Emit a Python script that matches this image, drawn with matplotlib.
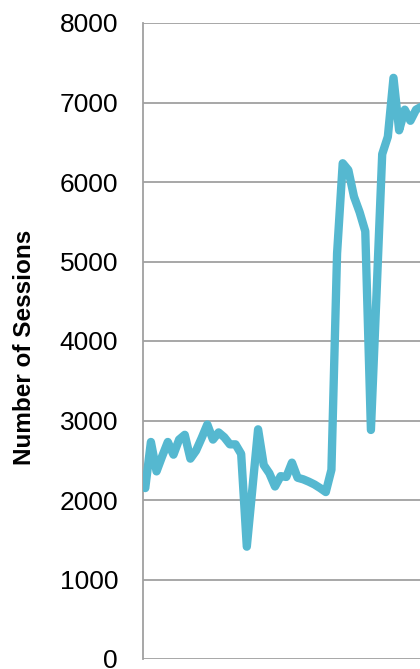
import matplotlib
matplotlib.use("Agg")
import matplotlib.pyplot as plt

# weekly sessions (index = week)
weeks = list(range(50))
sessions = [2150, 2730, 2360, 2550, 2730, 2570, 2760, 2820, 2520, 2620,
            2780, 2950, 2760, 2850, 2790, 2700, 2700, 2580, 1413, 2150,
            2889, 2440, 2336, 2170, 2300, 2290, 2470, 2280, 2260, 2230,
            2195, 2150, 2100, 2380, 5100, 6236, 6150, 5815, 5620, 5380,
            2881, 4600, 6350, 6570, 7310, 6650, 6910, 6770, 6910, 6950]
yticks = [0, 1000, 2000, 3000, 4000, 5000, 6000, 7000, 8000]

plt.rcParams['font.family'] = ['Liberation Sans', 'DejaVu Sans']

fig = plt.figure(figsize=(4.2, 6.69), dpi=100)
ax = fig.add_axes([143/420, 1 - 659/669, 1 - 143/420, (659 - 23)/669])

grid_col = '#A0A0A0'
for y in yticks:
    ax.axhline(y, color=grid_col, lw=1.3, zorder=1)

ax.plot(weeks, sessions, color='#55B8D0', lw=6, solid_joinstyle='round',
        solid_capstyle='round', zorder=3)

ax.set_ylim(0, 8000)
ax.set_xlim(-0.4, 48.7)
ax.set_yticks(yticks)
ax.set_yticklabels([str(v) for v in yticks], fontsize=19)
ax.tick_params(axis='y', length=0, pad=18)
ax.set_xticks([])

for s in ['top', 'right', 'bottom']:
    ax.spines[s].set_visible(False)
ax.spines['left'].set_color(grid_col)
ax.spines['left'].set_linewidth(1.3)

fig.text(25/420, 1 - 347.5/669, 'Number of Sessions', fontsize=17.5,
         fontweight='bold', rotation=90, ha='center', va='center')

fig.savefig('out.png', dpi=100)
